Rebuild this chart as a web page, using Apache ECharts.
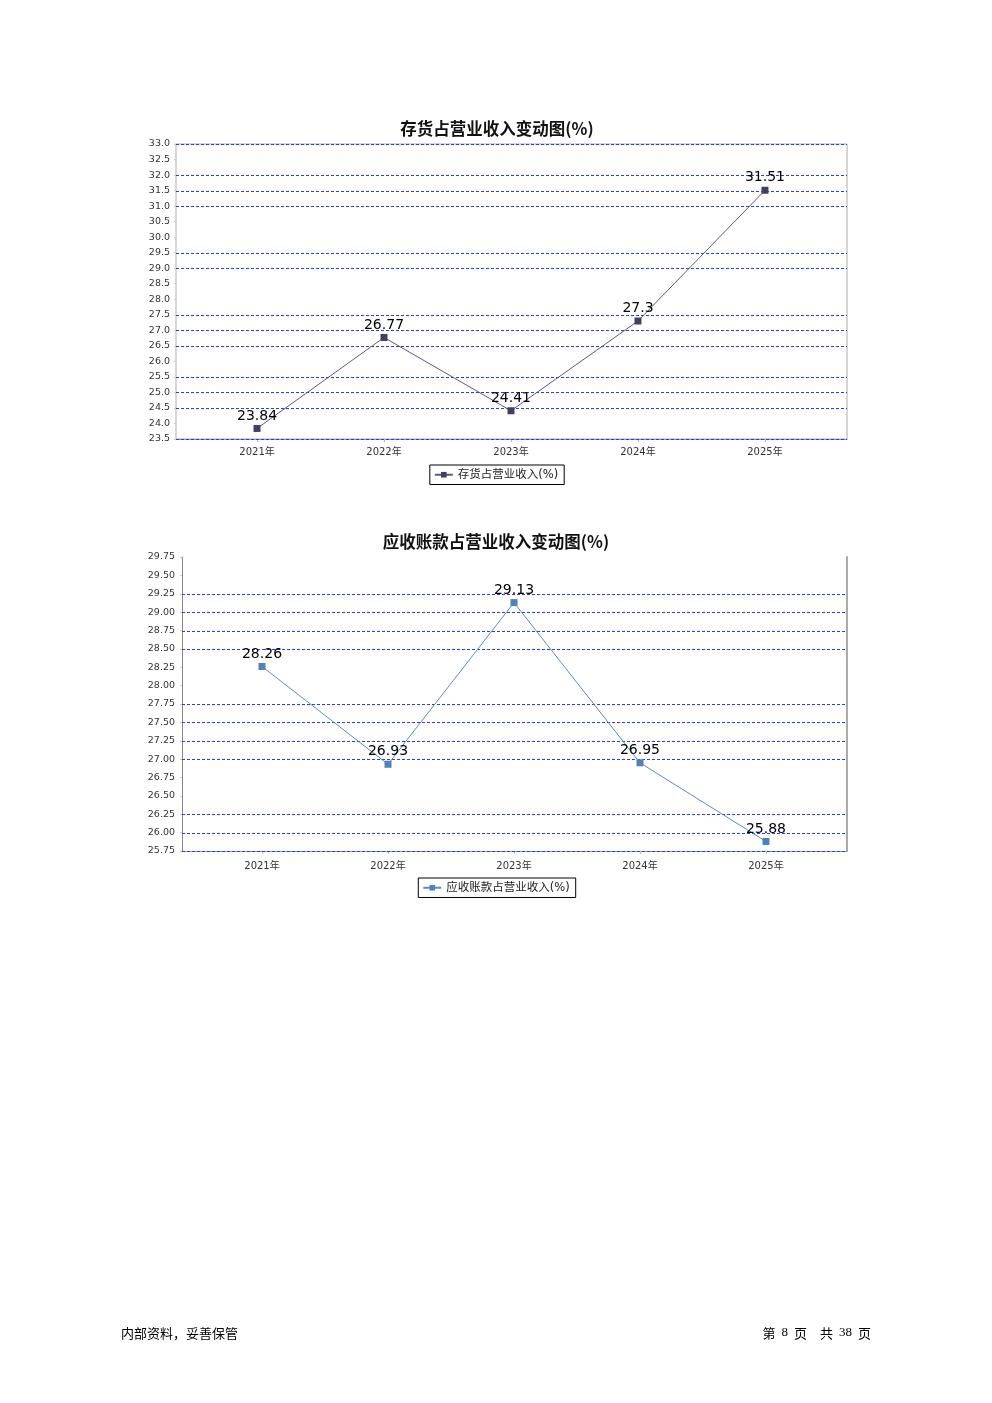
<!DOCTYPE html>
<html>
<head>
<meta charset="utf-8">
<style>
  html, body { margin: 0; padding: 0; background: #fff; }
  #chart { width: 992px; height: 1403px; }
</style>
<script src="https://cdn.jsdelivr.net/npm/echarts@6/dist/echarts.min.js"></script>
</head>
<body>
<div id="chart"></div>
<script>
// ---- data ----
const years = ['2021年', '2022年', '2023年', '2024年', '2025年'];
const inventoryRatio = [23.84, 26.77, 24.41, 27.3, 31.51];
const receivableRatio = [28.26, 26.93, 29.13, 26.95, 25.88];
const title1 = '存货占营业收入变动图(%)';
const title2 = '应收账款占营业收入变动图(%)';
const legend1 = '存货占营业收入(%)';
const legend2 = '应收账款占营业收入(%)';
// horizontal dashed grid lines visible in the reference
const gridLines1 = [33.0, 32.0, 31.5, 31.0, 29.5, 29.0, 27.5, 27.0, 26.5, 25.5, 25.0, 24.5, 23.5];
const gridLines2 = [29.25, 29.0, 28.75, 28.5, 27.75, 27.5, 27.25, 27.0, 26.25, 26.0, 25.75];
const footerLeft = '内部资料，妥善保管';
const footerPage = 8;
const footerTotal = 38;

const FONT = '"DejaVu Sans", "Noto Sans CJK SC", sans-serif';
const idx = years.map((_, i) => i);

function xAxisFor(gridIndex, min, max, margin) {
  return {
    type: 'value', gridIndex, min, max,
    axisLine: { show: true, onZero: false, lineStyle: { color: '#999', width: 1 } },
    axisTick: { show: true, customValues: idx, length: 3, lineStyle: { color: '#bbb' } },
    axisLabel: { customValues: idx, formatter: v => years[Math.round(v)] || '', color: '#333', fontSize: 10, margin, fontFamily: FONT },
    splitLine: { show: false }
  };
}

function gridSeries(vals, axisIndex) {
  return {
    type: 'custom', xAxisIndex: axisIndex, yAxisIndex: axisIndex, z: 1, silent: true,
    data: vals.map(v => [0, v]),
    encode: { x: 0, y: 1 },
    renderItem: (params, api) => {
      const cs = params.coordSys;
      const y = Math.round(api.coord([0, api.value(1)])[1]) + 0.5;
      return {
        type: 'line',
        shape: { x1: cs.x, y1: y, x2: cs.x + cs.width, y2: y },
        style: { stroke: '#3333ff', lineWidth: 1, lineDash: [3, 2] }
      };
    }
  };
}

function yLabelAxis(gridIndex, min, max, interval, digits, lineColor, lineWidth, margin) {
  return {
    type: 'value', gridIndex, min, max, interval,
    axisLine: { show: true, onZero: false, lineStyle: { color: lineColor, width: lineWidth } },
    axisTick: { show: true, length: 2, lineStyle: { color: '#ccc' } },
    axisLabel: { formatter: v => v.toFixed(digits), color: '#333', fontSize: 9.5, margin, fontFamily: FONT },
    splitLine: { show: false }
  };
}

const legendCommon = {
  orient: 'horizontal', borderColor: '#000', borderWidth: 1, padding: [4, 6, 4, 4],
  itemWidth: 18, itemHeight: 7, itemGap: 4, backgroundColor: '#fff',
  textStyle: { fontSize: 11.5, color: '#222', fontFamily: FONT }
};

const labelStyle = {
  show: true, position: 'top', distance: 2, fontSize: 14, color: '#000', fontFamily: FONT,
  formatter: p => String(p.value[1])
};

const chart = echarts.init(document.getElementById('chart'), null, { renderer: 'canvas' });
chart.setOption({
  animation: false,
  backgroundColor: '#fff',
  textStyle: { fontFamily: FONT },
  legend: [
    Object.assign({ data: [legend1], left: 'center', top: 465 }, legendCommon),
    Object.assign({ data: [legend2], left: 'center', top: 878 }, legendCommon)
  ],
  grid: [
    { left: 176, top: 144, width: 671, height: 295, show: true, borderColor: '#aaa', borderWidth: 1, backgroundColor: 'transparent' },
    { left: 182, top: 557, width: 665, height: 294, show: false }
  ],
  xAxis: [
    xAxisFor(0, -0.638, 4.646, 8),
    xAxisFor(1, -0.635, 4.643, 10)
  ],
  yAxis: [
    yLabelAxis(0, 23.5, 33.0, 0.5, 1, '#d6d6d6', 2, 6),
    yLabelAxis(1, 25.75, 29.75, 0.25, 2, '#888', 1, 7),
    { type: 'value', gridIndex: 1, position: 'right', min: 25.75, max: 29.75, interval: 0.25,
      axisLine: { show: true, onZero: false, lineStyle: { color: '#aaa', width: 2 } },
      axisTick: { show: false }, axisLabel: { show: false }, splitLine: { show: false } }
  ],
  series: [
    gridSeries(gridLines1, 0),
    { type: 'line', name: legend1, xAxisIndex: 0, yAxisIndex: 0, z: 3,
      data: inventoryRatio.map((v, i) => [i, v]),
      symbol: 'rect', symbolSize: 7,
      itemStyle: { color: '#404063' },
      lineStyle: { color: '#5a5a85', width: 1 },
      label: labelStyle },
    gridSeries(gridLines2, 1),
    { type: 'line', name: legend2, xAxisIndex: 1, yAxisIndex: 1, z: 3,
      data: receivableRatio.map((v, i) => [i, v]),
      symbol: 'rect', symbolSize: 7,
      itemStyle: { color: '#4f81bd' },
      lineStyle: { color: '#5b8cc4', width: 1 },
      label: labelStyle }
  ],
  graphic: [
    { type: 'text', x: 497, y: 129,
      style: { text: title1, fill: '#111', align: 'center', verticalAlign: 'middle',
               font: 'bold 16.5px "Noto Sans CJK SC", "DejaVu Sans", sans-serif' } },
    { type: 'text', x: 496, y: 542,
      style: { text: title2, fill: '#111', align: 'center', verticalAlign: 'middle',
               font: 'bold 16.5px "Noto Sans CJK SC", "DejaVu Sans", sans-serif' } },
    { type: 'text', x: 121, y: 1333,
      style: { text: footerLeft, fill: '#000', align: 'left', verticalAlign: 'middle',
               font: '13px "Noto Sans CJK SC", sans-serif' } },
    { type: 'text', x: 871, y: 1333,
      style: { text: '{c|第}{n|' + footerPage + '}{c|页}{g| }{c|共}{n|' + footerTotal + '}{c|页}',
               align: 'right', verticalAlign: 'middle', fill: '#000',
               rich: {
                 c: { font: '13px "Noto Sans CJK SC", sans-serif', fill: '#000' },
                 n: { font: '13px "Liberation Serif", serif', fill: '#000', padding: [0, 6] },
                 g: { font: '13px "Noto Sans CJK SC", sans-serif', padding: [0, 5] }
               } } }
  ]
});
</script>
</body>
</html>
